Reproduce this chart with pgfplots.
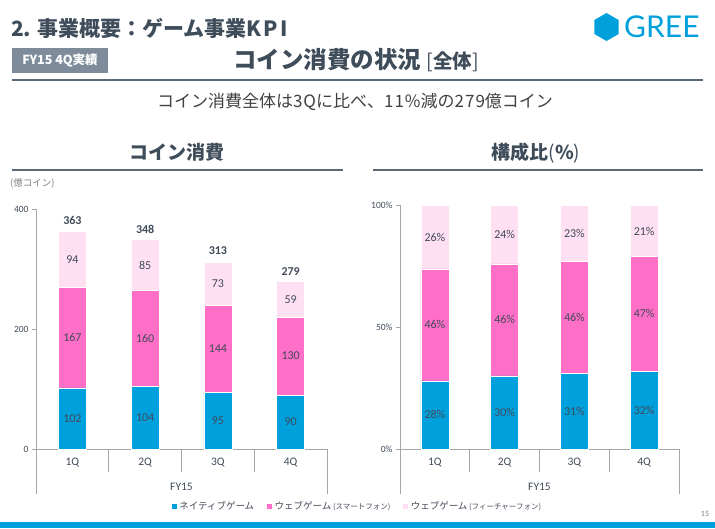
\documentclass[border=0pt]{standalone}
\usepackage{pgfplots}
\pgfplotsset{compat=1.18}
\usepackage{pgfplotstable}
\usepackage{fontspec}
\setmainfont{Noto Sans CJK JP}
\newfontfamily\numfont{Carlito}
\newfontfamily\logofont{Lato}
\definecolor{titlecol}{HTML}{3F4C5A}
\definecolor{boxcol}{HTML}{7D8B9A}
\definecolor{rulecol}{HTML}{5B6876}
\definecolor{greeblue}{HTML}{00A0DC}
\definecolor{cnative}{HTML}{00A0DC}
\definecolor{csmart}{HTML}{FF6EC7}
\definecolor{cfeat}{HTML}{FFE0F3}
\definecolor{lblcol}{HTML}{404A58}
\definecolor{axcol}{HTML}{A6A6A6}
\definecolor{subcol}{HTML}{404040}
\definecolor{graytxt}{HTML}{7F7F7F}

\pgfplotstableread{
q native smart feat total
0 102 167 94 363
1 104 160 85 348
2 95 144 73 313
3 90 130 59 279
}\coins
\pgfplotstableread{
q native smart feat
0 28 46 26
1 30 46 24
2 31 46 23
3 32 47 21
}\ratio

\tikzset{catlbl/.style={font=\numfont\fontsize{11.5}{12}\selectfont, text=lblcol}}
\pgfplotsset{
 slidebar/.style={
  ybar stacked, bar width=28pt, scale only axis, xmin=-0.5, xmax=3.5, ymin=0,
  axis x line*=bottom, axis y line*=left, xtick=\empty,
  axis line style={axcol, line width=0.8pt},
  major tick length=4pt, tick align=outside,
  ytick style={axcol, line width=0.8pt},
  yticklabel style={font=\numfont\fontsize{9.5}{10}\selectfont, text=lblcol},
  clip=false,
  /pgf/number format/assume math mode=true,
 },
 seg/.style={nodes near coords, point meta=rawy,
  every node near coord/.append style={anchor=center,
    font=\numfont\fontsize{12}{13}\selectfont, text=lblcol}},
}
\newcommand\catdeco{%
  \pgfplotsinvokeforeach{0.5,1.5,2.5}{\draw[axcol, line width=0.8pt] (axis cs:##1,0) -- ++(0pt,-23pt);}
  \pgfplotsinvokeforeach{-0.5,3.5}{\draw[axcol, line width=0.8pt] (axis cs:##1,0) -- ++(0pt,-45pt);}
  \node[catlbl] at ([yshift=-14pt]axis cs:0,0) {1Q};
  \node[catlbl] at ([yshift=-14pt]axis cs:1,0) {2Q};
  \node[catlbl] at ([yshift=-14pt]axis cs:2,0) {3Q};
  \node[catlbl] at ([yshift=-14pt]axis cs:3,0) {4Q};
  \node[catlbl] at ([yshift=-38pt]axis cs:1.5,0) {FY15};
}

\begin{document}
\begin{tikzpicture}[x=1pt,y=1pt]
\useasboundingbox (0,0) rectangle (715,528);
% header
\node[anchor=base west, inner sep=0, text=titlecol, font=\bfseries\fontsize{21}{23}\selectfont] at (11,491) {2.\hspace{6pt}事業概要：ゲーム事業K\hspace{2pt}P\hspace{2pt}I};
\fill[boxcol] (12,455) rectangle (108,480);
\node[text=white, font=\bfseries\fontsize{12.5}{13}\selectfont] at (60,467.5) {FY15 4Q実績};
\node[anchor=base, inner sep=0, text=titlecol] at (356,459) {\bfseries\fontsize{23.5}{25}\selectfont コイン消費の状況 {\mdseries\fontsize{19.5}{20}\selectfont [}{\fontsize{19.5}{20}\selectfont 全体}{\mdseries\fontsize{19.5}{20}\selectfont ]}};
\draw[rulecol, line width=1.2pt] (12,448) -- (703,448);
% logo
\fill[greeblue] (606.5,501) +(90:14) -- +(150:14) -- +(210:14) -- +(270:14) -- +(330:14) -- +(30:14) -- cycle;
\node[anchor=base west, inner sep=0, text=greeblue, font=\logofont\fontsize{30}{32}\selectfont] at (624,490) {GREE};
% subtitle
\node[anchor=base, inner sep=0, text=subcol, font=\fontsize{17}{19}\selectfont] at (355,420) {コイン消費全体は3\kern1pt Qに比べ、1\kern1pt 1\kern1pt\%減の2\kern1pt 7\kern1pt 9億コイン};
% section titles
\node[anchor=base, inner sep=0, text=titlecol, font=\bfseries\fontsize{19}{21}\selectfont] at (177,368) {コイン消費};
\node[anchor=base, inner sep=0, text=titlecol, font=\bfseries\fontsize{19}{21}\selectfont] at (536,368) {構成比{\mdseries (}\%{\mdseries )}};
\draw[rulecol, line width=1.2pt] (12,358) -- (343,358);
\draw[rulecol, line width=1.2pt] (373,358) -- (703,358);
\node[anchor=west, inner sep=0, text=graytxt, font=\fontsize{9.5}{10}\selectfont] at (10,345) {(億コイン)};

% left chart
\begin{axis}[slidebar, at={(36pt,79pt)}, anchor=south west, width=291pt, height=240pt,
  ymax=400, ytick={0,200,400},
  legend style={at={(1.103,-0.2375)}, anchor=center, draw=none, fill=none,
    font=\fontsize{9.5}{11}\selectfont, text=lblcol, legend columns=3,
    /tikz/every even column/.append style={column sep=10pt}},
  legend image code/.code={\fill[#1] (0pt,-3pt) rectangle (6pt,3pt);},
]
\addplot[fill=cnative, draw=white, line width=0.4pt, seg] table[x=q,y=native] {\coins};
\addplot[fill=csmart, draw=white, line width=0.4pt, seg] table[x=q,y=smart] {\coins};
\addplot[fill=cfeat, draw=white, line width=0.4pt, seg] table[x=q,y=feat] {\coins};
\legend{ネイティブゲーム, ウェブゲーム{\fontsize{7.5}{8}\selectfont\ (スマートフォン)}, ウェブゲーム{\fontsize{7.5}{8}\selectfont\ (フィーチャーフォン)}}
\catdeco
\end{axis}
% totals overlay (same geometry)
\begin{axis}[at={(36pt,79pt)}, anchor=south west, width=291pt, height=240pt, scale only axis,
  xmin=-0.5, xmax=3.5, ymin=0, ymax=400, hide axis, clip=false]
\addplot[draw=none, mark=none, nodes near coords, point meta=explicit symbolic,
  every node near coord/.append style={anchor=south, yshift=3pt, font=\numfont\bfseries\fontsize{12}{13}\selectfont, text=lblcol}]
  table[x=q,y=total,meta=total] {\coins};
\end{axis}

% right chart
\begin{axis}[slidebar, at={(400pt,79pt)}, anchor=south west, width=279pt, height=243.5pt,
  ymax=100, ytick={0,50,100}, yticklabel={\pgfmathprintnumber{\tick}\%},
]
\addplot[fill=cnative, draw=white, line width=0.4pt, seg, nodes near coords={\pgfmathprintnumber{\pgfplotspointmeta}\%}] table[x=q,y=native] {\ratio};
\addplot[fill=csmart, draw=white, line width=0.4pt, seg, nodes near coords={\pgfmathprintnumber{\pgfplotspointmeta}\%}] table[x=q,y=smart] {\ratio};
\addplot[fill=cfeat, draw=white, line width=0.4pt, seg, nodes near coords={\pgfmathprintnumber{\pgfplotspointmeta}\%}] table[x=q,y=feat] {\ratio};
\catdeco
\end{axis}

% footer
\node[text=graytxt, font=\numfont\fontsize{8}{9}\selectfont] at (705,14) {15};
\fill[greeblue] (0,0) rectangle (715,6);
\end{tikzpicture}
\end{document}
